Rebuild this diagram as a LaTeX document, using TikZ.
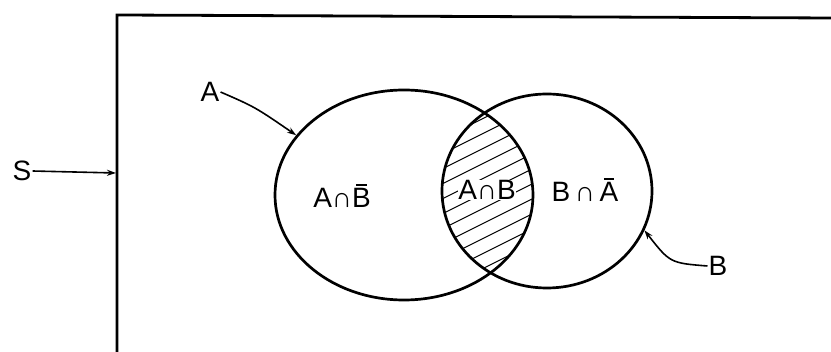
\documentclass[tikz,border=0pt]{standalone}
\usepackage{fontspec}
\setmainfont{Liberation Sans}
\usetikzlibrary{shapes.geometric,arrows.meta}
\newcommand{\barred}[1]{{\setbox0\hbox{#1}\rlap{\hbox to \wd0{\hss\rule[\dimexpr\ht0+2.5pt\relax]{0.55\wd0}{1.3pt}\hss}}#1}}
\begin{document}
\begin{tikzpicture}[x=1pt,y=-1pt,
  lbl/.style={font=\fontsize{28}{30}\selectfont, inner sep=1pt},
  venn/.style={ellipse, draw, line width=2.7pt, inner sep=0pt},
  lead/.style={line width=1.6pt, -{Stealth[length=9pt,width=6pt]}}]
\useasboundingbox (0,0) rectangle (831,352);
% universal set frame
\draw[line width=2.8pt] (833,18) -- (117,15) -- (117,355);
\coordinate (Sedge) at (116,173);
% hatching of the intersection
\begin{scope}
  \clip (404,195) ellipse [x radius=129pt, y radius=105pt];
  \clip (547,191) ellipse [x radius=105pt, y radius=97pt];
  \foreach \i in {-9,...,9}
    \draw[line width=1pt] (380,{245+15*\i}) -- (600,{135+15*\i});
\end{scope}
% sets
\node[venn, minimum width=258pt, minimum height=210pt] (ellA) at (404,195) {};
\node[venn, minimum width=210pt, minimum height=194pt] (ellB) at (547,191) {};
% region labels
\node[lbl] (AnB) at (342,196) {A∩\barred{B}};
\node[lbl, fill=white, inner sep=0.5pt] (AB) at (487,190) {A∩B};
\node[lbl] (BnA) at (585,190) {B\,∩\,\barred{A}};
% set labels
\node[lbl] (Slab) at (22,171) {S};
\node[lbl] (Alab) at (210,92) {A};
\node[lbl] (Blab) at (718,266) {B};
% leaders
\draw[lead] (Slab.east) -- (Sedge);
\draw[lead] (Alab.east) .. controls (255,107) .. (ellA.151);
\draw[lead] (Blab.west) .. controls (670,263) .. (ellB.-22);
\end{tikzpicture}
\end{document}
